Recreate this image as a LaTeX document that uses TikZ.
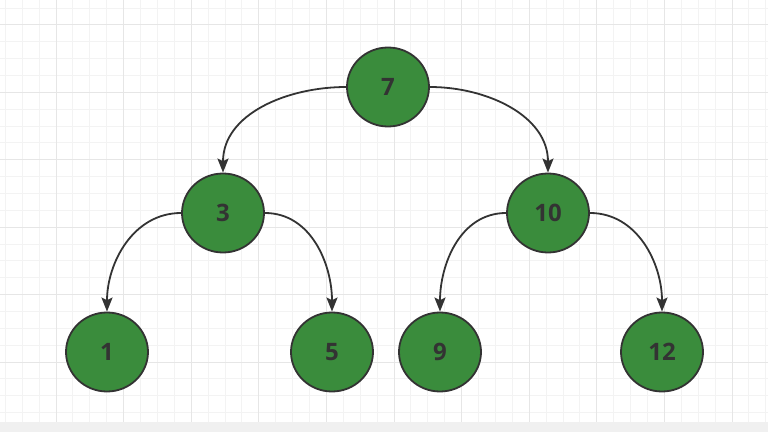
\documentclass[tikz,border=0pt]{standalone}
\usepackage{fontspec}
\setmainfont{Open Sans}
\usetikzlibrary{shapes.geometric,arrows.meta}
\definecolor{treegreen}{RGB}{58,140,60}
\definecolor{treeline}{RGB}{51,51,51}
\definecolor{gridminor}{RGB}{243,243,243}
\definecolor{gridmajor}{RGB}{230,230,230}
\definecolor{barfill}{RGB}{240,240,240}

\begin{document}
\begin{tikzpicture}[x=1pt,y=1pt,
  key/.style={ellipse, draw=treeline, line width=1.8pt, fill=treegreen,
    minimum width=82pt, minimum height=79pt, inner sep=0pt,
    font=\fontsize{24}{28}\selectfont\bfseries, text=treeline},
  link/.style={treeline, line width=1.8pt, -{Stealth[length=14pt,width=11pt,inset=2.5pt]}}]
  \useasboundingbox (0,0) rectangle (768,432);
  % background grid
  \foreach \gx in {5.3,22.2,...,768} \draw[gridminor, line width=1pt] (\gx,10) -- (\gx,432);
  \foreach \gy in {19.45,36.3,...,432} \draw[gridminor, line width=1pt] (0,\gy) -- (768,\gy);
  \foreach \gx in {56,123.6,...,768} \draw[gridmajor, line width=1pt] (\gx,10) -- (\gx,432);
  \foreach \gy in {70,137.4,...,432} \draw[gridmajor, line width=1pt] (0,\gy) -- (768,\gy);
  \fill[barfill] (0,0) rectangle (768,10);
  % tree nodes
  \node[key] (n7) at (388,345) {7};
  \node[key] (n3) at (223,219) {3};
  \node[key] (n10) at (548,219) {10};
  \node[key] (n1) at (107,80) {1};
  \node[key] (n5) at (332,80) {5};
  \node[key] (n9) at (440,80) {9};
  \node[key] (n12) at (662,80) {12};
  % links
  \draw[link] (n7.west) to[out=180, in=90] (n3.north);
  \draw[link] (n7.east) to[out=0, in=90] (n10.north);
  \draw[link] (n3.west) to[out=180, in=90] (n1.north);
  \draw[link] (n3.east) to[out=0, in=90] (n5.north);
  \draw[link] (n10.west) to[out=180, in=90] (n9.north);
  \draw[link] (n10.east) to[out=0, in=90] (n12.north);
\end{tikzpicture}
\end{document}
